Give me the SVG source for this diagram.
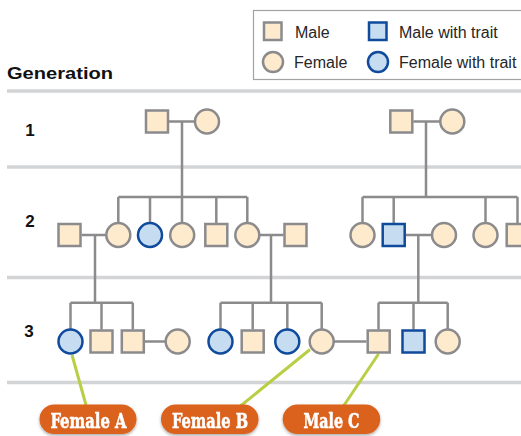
<svg xmlns="http://www.w3.org/2000/svg" width="521" height="436" viewBox="0 0 521 436">
  <defs>
    <style>
      .rule { stroke: #d3d4d6; stroke-width: 3.5; fill: none; }
      .link { stroke: #8b8b8d; stroke-width: 2.5; fill: none; }
      .plain { fill: #feebcd; stroke: #8b8b8d; stroke-width: 2.5; }
      .trait { fill: #c6dcf1; stroke: #0f4a9c; stroke-width: 2.5; }
      .leader { stroke: #b8cf45; stroke-width: 3; fill: none; }
      .legend-text { font-family: "Liberation Sans", Arial, sans-serif; font-size: 16px; fill: #262626; }
      .gen { font-family: "Liberation Sans", Arial, sans-serif; font-weight: bold; fill: #111; }
      .pill { fill: #db621d; }
      .pill-text { font-family: "DejaVu Serif Condensed", "DejaVu Serif", "Liberation Serif", serif; font-weight: bold; font-size: 20px; fill: #ffffff; stroke: #ffffff; stroke-width: 0.5; }
    </style>
    <filter id="shadow" x="-20%" y="-40%" width="140%" height="180%">
      <feDropShadow dx="0" dy="1.5" stdDeviation="1.6" flood-color="#000" flood-opacity="0.35"/>
    </filter>
  </defs>

  <rect width="521" height="436" fill="#ffffff"/>

  <!-- Legend -->
  <g id="legend">
    <rect x="253.5" y="10.5" width="290" height="69" fill="#ffffff" stroke="#a2a2a4" stroke-width="1.2"/>
    <rect class="plain" x="264" y="22.5" width="17.5" height="17.5"/>
    <text class="legend-text" x="295" y="38">Male</text>
    <circle class="plain" cx="273" cy="62" r="10"/>
    <text class="legend-text" x="294" y="68">Female</text>
    <rect class="trait" x="369" y="22.5" width="17.5" height="17.5"/>
    <text class="legend-text" x="399" y="38">Male with trait</text>
    <circle class="trait" cx="378" cy="62" r="10"/>
    <text class="legend-text" x="399" y="68">Female with trait</text>
  </g>

  <!-- Generation rows -->
  <g id="rows">
    <text class="gen" x="7" y="79" font-size="16.5" textLength="106" lengthAdjust="spacingAndGlyphs">Generation</text>
    <line class="rule" x1="7" y1="91" x2="521" y2="91"/>
    <line class="rule" x1="7" y1="167" x2="521" y2="167"/>
    <line class="rule" x1="7" y1="277.5" x2="521" y2="277.5"/>
    <line class="rule" x1="7" y1="382.5" x2="521" y2="382.5"/>
    <text class="gen" x="30" y="136" font-size="17" text-anchor="middle">1</text>
    <text class="gen" x="30" y="227" font-size="17" text-anchor="middle">2</text>
    <text class="gen" x="29" y="337" font-size="17" text-anchor="middle">3</text>
  </g>

  <!-- Connectors -->
  <g id="connectors">
    <!-- generation 1, left family -->
    <line class="link" x1="169" y1="121.5" x2="195" y2="121.5"/>
    <line class="link" x1="182" y1="121.5" x2="182" y2="197"/>
    <line class="link" x1="118.3" y1="197" x2="247.3" y2="197"/>
    <line class="link" x1="118.3" y1="197" x2="118.3" y2="223"/>
    <line class="link" x1="150" y1="197" x2="150" y2="223"/>
    <line class="link" x1="182" y1="197" x2="182" y2="223"/>
    <line class="link" x1="216.3" y1="197" x2="216.3" y2="223"/>
    <line class="link" x1="247.3" y1="197" x2="247.3" y2="223"/>
    <!-- generation 1, right family -->
    <line class="link" x1="413.3" y1="121.5" x2="440.3" y2="121.5"/>
    <line class="link" x1="426" y1="121.5" x2="426" y2="197"/>
    <line class="link" x1="362.5" y1="197" x2="517.5" y2="197"/>
    <line class="link" x1="362.5" y1="197" x2="362.5" y2="223"/>
    <line class="link" x1="393.7" y1="197" x2="393.7" y2="223"/>
    <line class="link" x1="485.5" y1="197" x2="485.5" y2="223"/>
    <line class="link" x1="517.5" y1="197" x2="517.5" y2="223"/>
    <!-- generation 2 couples -->
    <line class="link" x1="81.5" y1="235" x2="106.3" y2="235"/>
    <line class="link" x1="95" y1="235" x2="95" y2="302.7"/>
    <line class="link" x1="259.3" y1="235" x2="283.5" y2="235"/>
    <line class="link" x1="271" y1="235" x2="271" y2="302.7"/>
    <line class="link" x1="405.7" y1="235" x2="432" y2="235"/>
    <line class="link" x1="418.3" y1="235" x2="418.3" y2="302.7"/>
    <!-- generation 3 sibships -->
    <line class="link" x1="70.5" y1="302.7" x2="132.8" y2="302.7"/>
    <line class="link" x1="70.5" y1="302.7" x2="70.5" y2="329.5"/>
    <line class="link" x1="101.5" y1="302.7" x2="101.5" y2="329.5"/>
    <line class="link" x1="132.8" y1="302.7" x2="132.8" y2="329.5"/>
    <line class="link" x1="220.5" y1="302.7" x2="321.7" y2="302.7"/>
    <line class="link" x1="220.5" y1="302.7" x2="220.5" y2="329.5"/>
    <line class="link" x1="252.7" y1="302.7" x2="252.7" y2="329.5"/>
    <line class="link" x1="287.3" y1="302.7" x2="287.3" y2="329.5"/>
    <line class="link" x1="321.7" y1="302.7" x2="321.7" y2="329.5"/>
    <line class="link" x1="378.5" y1="302.7" x2="447.7" y2="302.7"/>
    <line class="link" x1="378.5" y1="302.7" x2="378.5" y2="329.5"/>
    <line class="link" x1="413.5" y1="302.7" x2="413.5" y2="329.5"/>
    <line class="link" x1="447.7" y1="302.7" x2="447.7" y2="329.5"/>
    <!-- generation 3 couples -->
    <line class="link" x1="144.8" y1="341.5" x2="165.7" y2="341.5"/>
    <line class="link" x1="333.7" y1="341.5" x2="366.5" y2="341.5"/>
    <!-- callout leaders -->
    <line class="leader" x1="72" y1="355" x2="86" y2="405"/>
    <line class="leader" x1="310" y1="349.5" x2="240.5" y2="406"/>
    <line class="leader" x1="378.5" y1="354" x2="343.5" y2="406"/>
  </g>

  <!-- Generation 1 -->
  <g id="g1-m1"><rect class="plain" x="146" y="110.5" width="22" height="22"/></g>
  <g id="g1-f1"><circle class="plain" cx="207" cy="121.5" r="12"/></g>
  <g id="g1-m2"><rect class="plain" x="390.3" y="110.5" width="22" height="22"/></g>
  <g id="g1-f2"><circle class="plain" cx="452.3" cy="121.5" r="12"/></g>

  <!-- Generation 2 -->
  <g id="g2-m1"><rect class="plain" x="58.5" y="224" width="22" height="22"/></g>
  <g id="g2-f1"><circle class="plain" cx="118.3" cy="235" r="12"/></g>
  <g id="g2-f2"><circle class="trait" cx="150" cy="235" r="12"/></g>
  <g id="g2-f3"><circle class="plain" cx="182.2" cy="235" r="12"/></g>
  <g id="g2-m2"><rect class="plain" x="205.3" y="224" width="22" height="22"/></g>
  <g id="g2-f4"><circle class="plain" cx="247.3" cy="235" r="12"/></g>
  <g id="g2-m3"><rect class="plain" x="284.5" y="224" width="22" height="22"/></g>
  <g id="g2-f5"><circle class="plain" cx="362.5" cy="235" r="12"/></g>
  <g id="g2-m4"><rect class="trait" x="382.7" y="224" width="22" height="22"/></g>
  <g id="g2-f6"><circle class="plain" cx="444" cy="235" r="12"/></g>
  <g id="g2-f7"><circle class="plain" cx="485.5" cy="235" r="12"/></g>
  <g id="g2-m5"><rect class="plain" x="506.7" y="224" width="22" height="22"/></g>

  <!-- Generation 3 -->
  <g id="g3-f1"><circle class="trait" cx="70.5" cy="341.5" r="12"/></g>
  <g id="g3-m1"><rect class="plain" x="90.5" y="330.5" width="22" height="22"/></g>
  <g id="g3-m2"><rect class="plain" x="121.8" y="330.5" width="22" height="22"/></g>
  <g id="g3-f2"><circle class="plain" cx="177.7" cy="341.5" r="12"/></g>
  <g id="g3-f3"><circle class="trait" cx="220.5" cy="341.5" r="12"/></g>
  <g id="g3-m3"><rect class="plain" x="241.7" y="330.5" width="22" height="22"/></g>
  <g id="g3-f4"><circle class="trait" cx="287.3" cy="341.5" r="12"/></g>
  <g id="g3-f5"><circle class="plain" cx="321.7" cy="341.5" r="12"/></g>
  <g id="g3-m4"><rect class="plain" x="367.7" y="330.5" width="22" height="22"/></g>
  <g id="g3-m5"><rect class="trait" x="402.5" y="330.5" width="22" height="22"/></g>
  <g id="g3-f6"><circle class="plain" cx="447.7" cy="341.5" r="12"/></g>

  <!-- Callouts -->
  <g id="label-female-a" filter="url(#shadow)">
    <rect class="pill" x="39.5" y="404.5" width="97" height="29.5" rx="14.75"/>
    <text class="pill-text" x="88.5" y="428.3" text-anchor="middle" textLength="76" lengthAdjust="spacingAndGlyphs">Female A</text>
  </g>
  <g id="label-female-b" filter="url(#shadow)">
    <rect class="pill" x="161" y="404.5" width="97.5" height="29.5" rx="14.75"/>
    <text class="pill-text" x="210" y="428.3" text-anchor="middle" textLength="76" lengthAdjust="spacingAndGlyphs">Female B</text>
  </g>
  <g id="label-male-c" filter="url(#shadow)">
    <rect class="pill" x="282.7" y="404.5" width="97.5" height="29.5" rx="14.75"/>
    <text class="pill-text" x="331.5" y="428.3" text-anchor="middle" textLength="56" lengthAdjust="spacingAndGlyphs">Male C</text>
  </g>
</svg>
